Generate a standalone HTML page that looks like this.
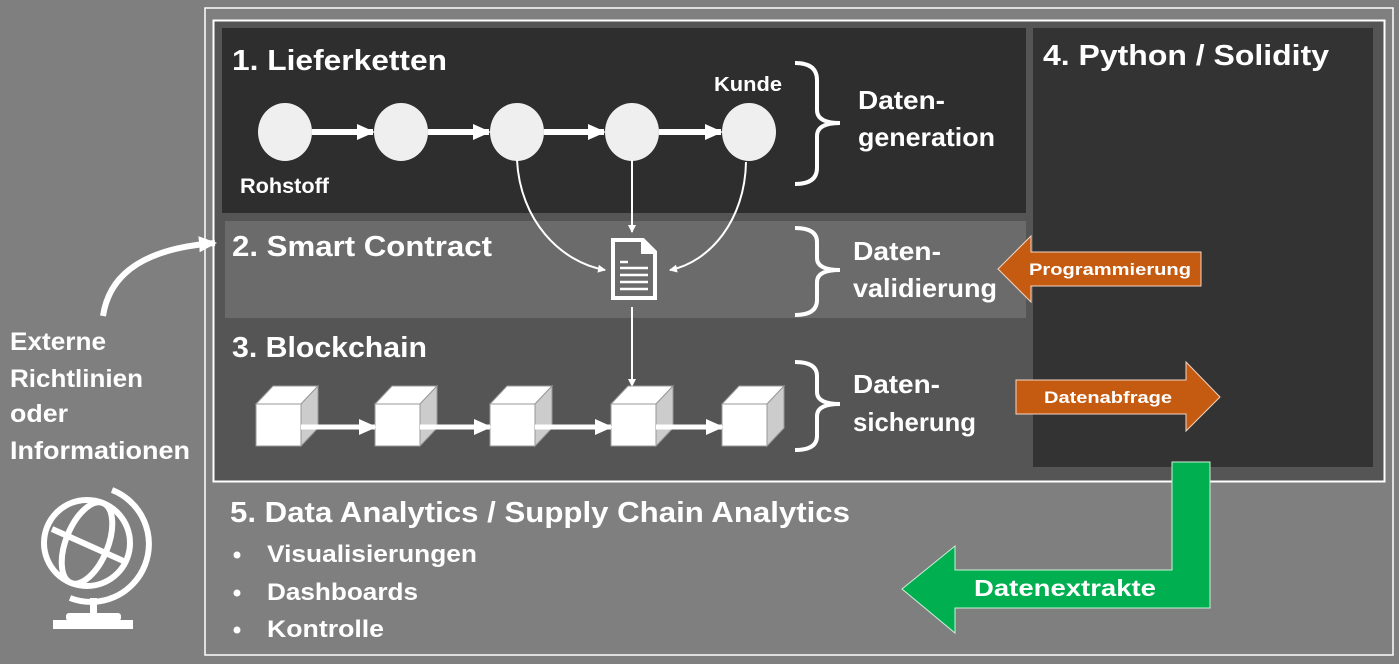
<!DOCTYPE html>
<html><head><meta charset="utf-8"><style>
html,body{margin:0;padding:0;background:#7f7f7f;}
svg{display:block;}
text{font-family:"Liberation Sans",sans-serif;font-weight:bold;fill:#fff;}
</style></head><body>
<svg width="1399" height="664" viewBox="0 0 1399 664" xmlns="http://www.w3.org/2000/svg">
<defs>
<marker id="ah" markerWidth="8" markerHeight="8" refX="7" refY="4" orient="auto" markerUnits="userSpaceOnUse"><path d="M0,0 L8,4 L0,8 Z" fill="#fff"/></marker>
<marker id="ahb" markerWidth="18" markerHeight="18" refX="16" refY="9" orient="auto" markerUnits="userSpaceOnUse"><path d="M0,1 L18,9 L0,17 Z" fill="#fff"/></marker>
</defs>
<rect width="1399" height="664" fill="#7f7f7f"/>
<rect x="205" y="8" width="1188" height="647" fill="none" stroke="#fff" stroke-width="1.5"/>
<rect x="213.5" y="20.5" width="1171" height="461" fill="#555" stroke="#fff" stroke-width="2"/>
<rect x="222" y="28" width="804" height="185" fill="#2e2e2e"/>
<rect x="225" y="221" width="801" height="97" fill="#6b6b6b"/>
<rect x="1033" y="28" width="340" height="439" fill="#333"/>

<text x="232" y="70" font-size="29" textLength="215" lengthAdjust="spacingAndGlyphs">1. Lieferketten</text>
<text x="714" y="91" font-size="20" textLength="68" lengthAdjust="spacingAndGlyphs">Kunde</text>
<text x="240" y="193" font-size="21" textLength="89" lengthAdjust="spacingAndGlyphs">Rohstoff</text>
<text x="232" y="256" font-size="29" textLength="260" lengthAdjust="spacingAndGlyphs">2. Smart Contract</text>
<text x="232" y="357" font-size="29" textLength="195" lengthAdjust="spacingAndGlyphs">3. Blockchain</text>
<text x="1043" y="65" font-size="29" textLength="286" lengthAdjust="spacingAndGlyphs">4. Python / Solidity</text>

<g stroke="#fff" stroke-width="6" marker-end="url(#ahb)">
<line x1="312" y1="132" x2="373" y2="132"/>
<line x1="428" y1="132" x2="489" y2="132"/>
<line x1="544" y1="132" x2="604" y2="132"/>
<line x1="659" y1="132" x2="721" y2="132"/>
</g>
<g fill="#efefef">
<ellipse cx="285" cy="132" rx="27" ry="29"/>
<ellipse cx="401" cy="132" rx="27" ry="29"/>
<ellipse cx="517" cy="132" rx="27" ry="29"/>
<ellipse cx="632" cy="132" rx="27" ry="29"/>
<ellipse cx="749" cy="132" rx="27" ry="29"/>
</g>
<g fill="none" stroke="#fff" stroke-width="2" marker-end="url(#ah)">
<path d="M517,160 C520,220 560,262 605,270"/>
<line x1="632" y1="160" x2="632" y2="232"/>
<path d="M746,162 C745,220 710,262 670,270"/>
<line x1="632" y1="307" x2="632" y2="386"/>
</g>
<path d="M613,240 L643,240 L655,252 L655,298 L613,298 Z" fill="none" stroke="#fff" stroke-width="4"/>
<path d="M641,240 L641,254 L655,254 Z" fill="#fff"/>
<g stroke="#fff" stroke-width="2.5"><line x1="620" y1="262" x2="628" y2="262"/><line x1="620" y1="268" x2="648" y2="268"/><line x1="620" y1="275" x2="648" y2="275"/><line x1="620" y1="282" x2="648" y2="282"/><line x1="620" y1="289" x2="648" y2="289"/></g>

<g>
<g transform="translate(256,0)"><path d="M0,404 L17,386 L62,386 L45,404 Z" fill="#fff" stroke="#999"/><path d="M45,404 L62,386 L62,428 L45,446 Z" fill="#ccc" stroke="#999"/><rect x="0" y="404" width="45" height="42" fill="#fff" stroke="#999"/></g>
<g transform="translate(375,0)"><path d="M0,404 L17,386 L62,386 L45,404 Z" fill="#fff" stroke="#999"/><path d="M45,404 L62,386 L62,428 L45,446 Z" fill="#ccc" stroke="#999"/><rect x="0" y="404" width="45" height="42" fill="#fff" stroke="#999"/></g>
<g transform="translate(490,0)"><path d="M0,404 L17,386 L62,386 L45,404 Z" fill="#fff" stroke="#999"/><path d="M45,404 L62,386 L62,428 L45,446 Z" fill="#ccc" stroke="#999"/><rect x="0" y="404" width="45" height="42" fill="#fff" stroke="#999"/></g>
<g transform="translate(611,0)"><path d="M0,404 L17,386 L62,386 L45,404 Z" fill="#fff" stroke="#999"/><path d="M45,404 L62,386 L62,428 L45,446 Z" fill="#ccc" stroke="#999"/><rect x="0" y="404" width="45" height="42" fill="#fff" stroke="#999"/></g>
<g transform="translate(722,0)"><path d="M0,404 L17,386 L62,386 L45,404 Z" fill="#fff" stroke="#999"/><path d="M45,404 L62,386 L62,428 L45,446 Z" fill="#ccc" stroke="#999"/><rect x="0" y="404" width="45" height="42" fill="#fff" stroke="#999"/></g>
</g>
<g stroke="#fff" stroke-width="5" marker-end="url(#ahb)">
<line x1="301" y1="427" x2="375" y2="427"/>
<line x1="420" y1="427" x2="490" y2="427"/>
<line x1="535" y1="427" x2="611" y2="427"/>
<line x1="656" y1="427" x2="722" y2="427"/>
</g>

<g fill="none" stroke="#fff" stroke-width="4">
<path d="M795,63 Q817,63 817,80 L817,110 Q817,123 840,123 Q817,123 817,136 L817,168 Q817,184 795,184"/>
<path d="M795,228 Q817,228 817,242 L817,258 Q817,270 840,270 Q817,270 817,282 L817,300 Q817,315 795,315"/>
<path d="M795,362 Q817,362 817,376 L817,392 Q817,404 840,404 Q817,404 817,416 L817,436 Q817,450 795,450"/>
</g>
<text x="858" y="109" font-size="26" textLength="87" lengthAdjust="spacingAndGlyphs">Daten-</text>
<text x="858" y="146" font-size="26" textLength="137" lengthAdjust="spacingAndGlyphs">generation</text>
<text x="853" y="260" font-size="26" textLength="88" lengthAdjust="spacingAndGlyphs">Daten-</text>
<text x="853" y="297" font-size="26" textLength="144" lengthAdjust="spacingAndGlyphs">validierung</text>
<text x="853" y="393" font-size="26" textLength="87" lengthAdjust="spacingAndGlyphs">Daten-</text>
<text x="853" y="431" font-size="26" textLength="123" lengthAdjust="spacingAndGlyphs">sicherung</text>

<path d="M998,269 L1031,236 L1031,252 L1201,252 L1201,286 L1031,286 L1031,302 Z" fill="#c55a11" stroke="#f2d6c4" stroke-width="1"/>
<text x="1110" y="275" font-size="17" text-anchor="middle" textLength="162" lengthAdjust="spacingAndGlyphs">Programmierung</text>
<path d="M1016,380 L1186,380 L1186,362 L1220,397 L1186,431 L1186,414 L1016,414 Z" fill="#c55a11" stroke="#f2d6c4" stroke-width="1"/>
<text x="1108" y="403" font-size="17" text-anchor="middle" textLength="128" lengthAdjust="spacingAndGlyphs">Datenabfrage</text>

<path d="M1172,462 L1210,462 L1210,608 L955,608 L955,633 L902,589 L955,546 L955,570 L1172,570 Z" fill="#00b050" stroke="#c9f0d8" stroke-width="1"/>
<text x="1065" y="596" font-size="23" text-anchor="middle" textLength="182" lengthAdjust="spacingAndGlyphs">Datenextrakte</text>

<text x="230" y="522" font-size="29" textLength="620" lengthAdjust="spacingAndGlyphs">5. Data Analytics / Supply Chain Analytics</text>
<g font-size="24">
<circle cx="237" cy="555" r="3.5" fill="#fff"/><text x="267" y="562" textLength="210" lengthAdjust="spacingAndGlyphs">Visualisierungen</text>
<circle cx="237" cy="593" r="3.5" fill="#fff"/><text x="267" y="600" textLength="151" lengthAdjust="spacingAndGlyphs">Dashboards</text>
<circle cx="237" cy="630" r="3.5" fill="#fff"/><text x="267" y="637" textLength="117" lengthAdjust="spacingAndGlyphs">Kontrolle</text>
</g>

<text x="10" y="350" font-size="25" textLength="96" lengthAdjust="spacingAndGlyphs">Externe</text>
<text x="10" y="387" font-size="25" textLength="133" lengthAdjust="spacingAndGlyphs">Richtlinien</text>
<text x="10" y="422" font-size="25" textLength="58" lengthAdjust="spacingAndGlyphs">oder</text>
<text x="10" y="459" font-size="25" textLength="180" lengthAdjust="spacingAndGlyphs">Informationen</text>
<path d="M103,316 C110,270 150,248 215,243" fill="none" stroke="#fff" stroke-width="6" marker-end="url(#ahb)"/>

<g fill="none" stroke="#fff" stroke-width="6">
<circle cx="87" cy="543" r="43"/>
<ellipse cx="87" cy="543" rx="21" ry="43" transform="rotate(22 87 543)"/>
<line x1="52" y1="529" x2="128" y2="563"/>
<path d="M112,490 A55,55 0 0 1 70,598"/>
</g>
<rect x="90" y="598" width="7" height="17" fill="#fff"/>
<rect x="66" y="613" width="55" height="8" rx="3" fill="#fff"/>
<rect x="53" y="620" width="80" height="9" fill="#fff"/>
</svg>
</body></html>
